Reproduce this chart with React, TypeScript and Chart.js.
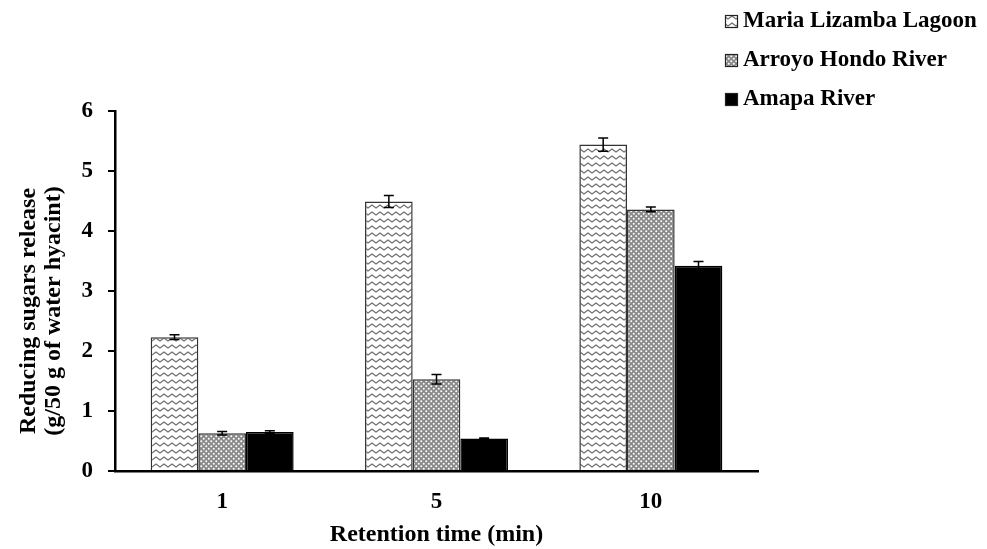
import React, { useEffect, useRef } from "react";
import { Chart, registerables } from "chart.js";

Chart.register(...registerables);

const categories = ["1", "5", "10"];
const seriesLabels = ["Maria Lizamba Lagoon", "Arroyo Hondo River", "Amapa River"];
const mariaValues = [2.23, 4.49, 5.44];
const mariaErrors = [0.04, 0.1, 0.11];
const arroyoValues = [0.63, 1.53, 4.36];
const arroyoErrors = [0.03, 0.08, 0.04];
const amapaValues = [0.65, 0.54, 3.42];
const amapaErrors = [0.02, 0.01, 0.07];
const yMin = 0;
const yMax = 6;
const yStep = 1;
const xTitle = "Retention time (min)";
const yTitleLines = ["Reducing sugars release", "(g/50 g of water hyacint)"];

const FONT = "'Liberation Serif', 'Times New Roman', serif";

function makeZigzag(): CanvasPattern | string {
  const c = document.createElement("canvas");
  c.width = 8;
  c.height = 7;
  const g = c.getContext("2d");
  if (!g) return "#fff";
  g.fillStyle = "#ffffff";
  g.fillRect(0, 0, 8, 7);
  g.strokeStyle = "#6f6f6f";
  g.lineWidth = 1.3;
  g.beginPath();
  g.moveTo(-4, 2);
  g.lineTo(0, 5);
  g.lineTo(4, 2);
  g.lineTo(8, 5);
  g.lineTo(12, 2);
  g.stroke();
  const p = g.createPattern(c, "repeat");
  return p || "#fff";
}

function makeMesh(): CanvasPattern | string {
  const c = document.createElement("canvas");
  c.width = 5;
  c.height = 5;
  const g = c.getContext("2d");
  if (!g) return "#999";
  g.fillStyle = "#8a8a8a";
  g.fillRect(0, 0, 5, 5);
  g.fillStyle = "#ffffff";
  g.beginPath();
  g.arc(1.25, 1.25, 1.0, 0, Math.PI * 2);
  g.fill();
  g.beginPath();
  g.arc(3.75, 3.75, 1.0, 0, Math.PI * 2);
  g.fill();
  const p = g.createPattern(c, "repeat");
  return p || "#999";
}

export default function App() {
  const ref = useRef<HTMLCanvasElement | null>(null);

  useEffect(() => {
    document.body.style.margin = "0";
    const canvas = ref.current;
    if (!canvas) return;

    const fills = [makeZigzag(), makeMesh(), "#000000"];
    const errors = [mariaErrors, arroyoErrors, amapaErrors];

    const errorBars = {
      id: "errorBars",
      afterDatasetsDraw(chart: any) {
        const ctx = chart.ctx;
        const ys = chart.scales.y;
        ctx.save();
        ctx.strokeStyle = "#000";
        ctx.lineWidth = 1.5;
        chart.data.datasets.forEach((ds: any, i: number) => {
          const meta = chart.getDatasetMeta(i);
          meta.data.forEach((el: any, j: number) => {
            const v = ds.data[j];
            const e = errors[i][j];
            const top = ys.getPixelForValue(v + e);
            const bot = ys.getPixelForValue(v - e);
            const x = el.x;
            ctx.beginPath();
            ctx.moveTo(x, top);
            ctx.lineTo(x, bot);
            ctx.moveTo(x - 5, top);
            ctx.lineTo(x + 5, top);
            ctx.moveTo(x - 5, bot);
            ctx.lineTo(x + 5, bot);
            ctx.stroke();
          });
        });
        ctx.restore();
      },
    };

    const extras = {
      id: "extras",
      afterDraw(chart: any) {
        const ctx = chart.ctx;
        ctx.save();
        // y-axis title
        ctx.fillStyle = "#000";
        ctx.font = `bold 24px ${FONT}`;
        ctx.textAlign = "center";
        ctx.textBaseline = "middle";
        ctx.translate(29, 311);
        ctx.rotate(-Math.PI / 2);
        yTitleLines.forEach((line, k) => ctx.fillText(line, 0, k * 25));
        ctx.restore();

        // legend
        ctx.save();
        ctx.font = `bold 23px ${FONT}`;
        ctx.textAlign = "left";
        ctx.textBaseline = "middle";
        chart.data.datasets.forEach((ds: any, i: number) => {
          const cy = 21 + i * 39;
          ctx.fillStyle = ds.backgroundColor;
          ctx.fillRect(725, cy - 6, 13, 13);
          ctx.strokeStyle = "#222";
          ctx.lineWidth = 1.2;
          ctx.strokeRect(725.5, cy - 5.5, 12, 12);
          ctx.fillStyle = "#000";
          ctx.fillText(ds.label, 743, cy);
        });
        ctx.restore();
      },
    };

    const chart = new Chart(canvas, {
      type: "bar",
      data: {
        labels: categories,
        datasets: [
          { label: seriesLabels[0], data: mariaValues, backgroundColor: fills[0] as any, borderColor: "#333", borderWidth: 1.5 },
          { label: seriesLabels[1], data: arroyoValues, backgroundColor: fills[1] as any, borderColor: "#333", borderWidth: 1.5 },
          { label: seriesLabels[2], data: amapaValues, backgroundColor: fills[2] as any, borderColor: "#000", borderWidth: 1.5 },
        ],
      },
      options: {
        responsive: false,
        animation: false,
        devicePixelRatio: 1,
        layout: { padding: { top: 111, right: 229, left: 0, bottom: 0 } },
        datasets: { bar: { categoryPercentage: 0.667, barPercentage: 1 } },
        plugins: {
          legend: { display: false },
          tooltip: { enabled: false },
        },
        scales: {
          x: {
            grid: { display: false, drawTicks: false },
            border: { display: true, color: "#000", width: 2.5 },
            ticks: {
              color: "#000",
              padding: 17,
              font: { family: FONT, size: 23, weight: "bold" },
            },
            title: {
              display: true,
              text: xTitle,
              color: "#000",
              padding: { top: 0, bottom: 0 },
              font: { family: FONT, size: 24, weight: "bold", lineHeight: 1.2 },
            },
            afterFit(scale: any) {
              scale.height = 78;
            },
          },
          y: {
            min: yMin,
            max: yMax,
            grid: { display: true, drawOnChartArea: false, drawTicks: true, tickLength: 7, color: "#000", lineWidth: 2 },
            border: { display: true, color: "#000", width: 2.5 },
            ticks: {
              stepSize: yStep,
              color: "#000",
              padding: 15,
              font: { family: FONT, size: 23, weight: "bold" },
            },
            afterFit(scale: any) {
              scale.width = 115;
            },
          },
        },
      },
      plugins: [errorBars, extras],
    });

    return () => chart.destroy();
  }, []);

  return (
    <div style={{ width: 987, height: 549 }}>
      <canvas ref={ref} width={987} height={549} style={{ display: "block", width: 987, height: 549 }} />
    </div>
  );
}
